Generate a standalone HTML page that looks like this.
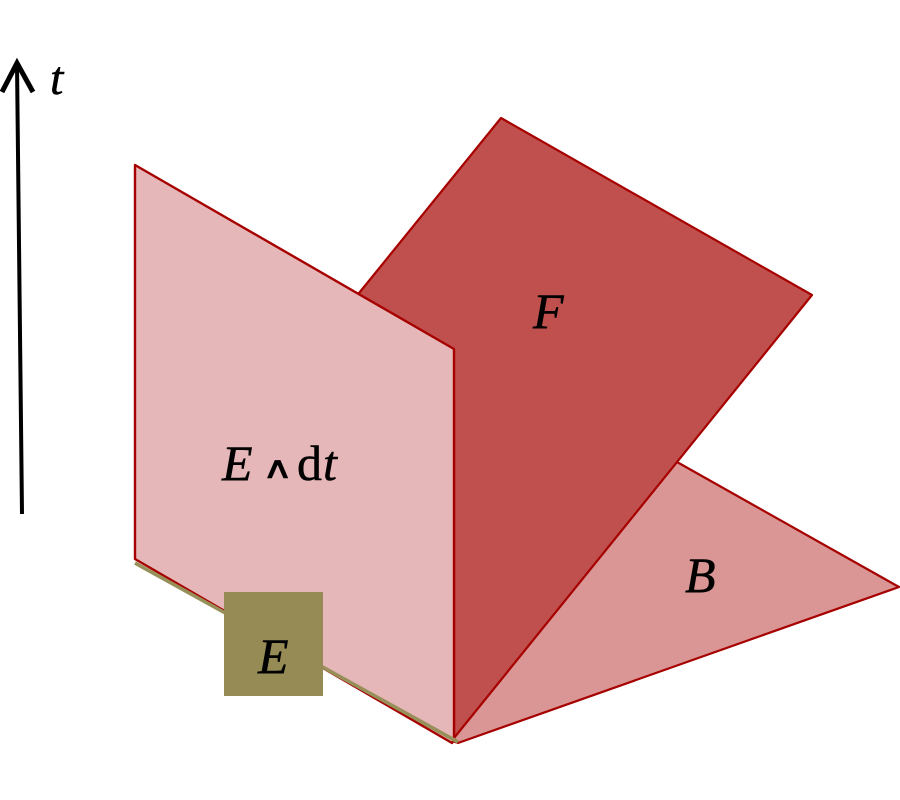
<!DOCTYPE html>
<html>
<head>
<meta charset="utf-8">
<style>
html,body{margin:0;padding:0;background:#fff;}
svg{display:block;}
text{font-family:"Liberation Serif",serif;fill:#000;stroke:#000;stroke-width:0.5px;}
.i{font-style:italic;}
</style>
</head>
<body>
<svg width="900" height="800" viewBox="0 0 900 800" xmlns="http://www.w3.org/2000/svg">
<rect width="900" height="800" fill="#fff"/>
<!-- B -->
<polygon points="677,462 899,587 458,743 450,735" fill="#d99694"/>
<polyline points="677,462 899,587 458,743 452,741" fill="none" stroke="#a60000" stroke-width="2.2" stroke-linejoin="round"/>
<!-- F -->
<polygon points="501,118 812,295 454,738 454,400 355,298" fill="#c0504d" stroke="#a60000" stroke-width="2.2" stroke-linejoin="round"/>
<!-- E wedge dt -->
<polygon points="135,165 454,349 454,740 452,743 135,559" fill="#e6b7b8" stroke="#a60000" stroke-width="2.4" stroke-linejoin="round"/>
<!-- E strip -->
<line x1="135" y1="563" x2="458" y2="742" stroke="#98905a" stroke-width="3.6"/>
<!-- E square -->
<rect x="224" y="592" width="99" height="104" fill="#968b55"/>
<!-- Arrow -->
<line x1="22" y1="514" x2="17" y2="64" stroke="#000" stroke-width="4"/>
<polyline points="2,92 17,63 33,92" fill="none" stroke="#000" stroke-width="5"/>
<!-- Labels -->
<text class="i" x="50" y="94" font-size="48">t</text>
<text class="i" x="533" y="328" font-size="50">F</text>
<text class="i" x="222" y="480" font-size="50">E</text>
<text transform="translate(262,478) scale(1.33,0.95)" x="0" y="0" font-size="32">∧</text>
<text x="297" y="480" font-size="50">d</text>
<text class="i" x="323" y="480" font-size="50">t</text>
<text class="i" x="685" y="592" font-size="50">B</text>
<text class="i" x="258" y="673" font-size="50">E</text>
</svg>
</body>
</html>
